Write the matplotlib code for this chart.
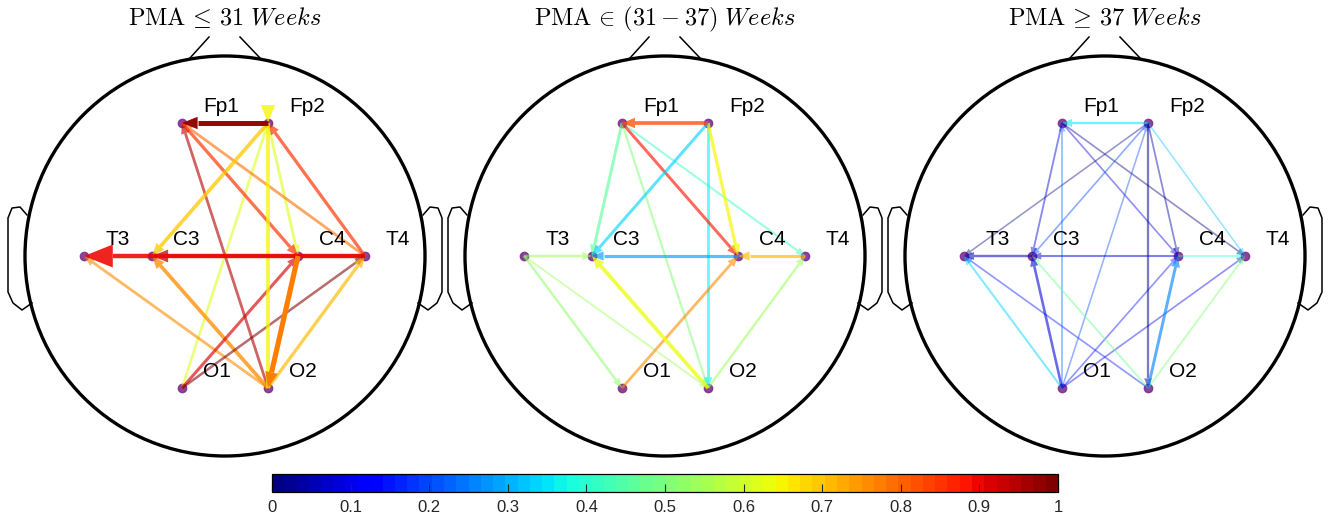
import numpy as np
import matplotlib.pyplot as plt
from matplotlib.patches import Circle, Polygon
from matplotlib.colors import Normalize
from matplotlib.cm import ScalarMappable

plt.rcParams['mathtext.fontset'] = 'cm'
plt.rcParams['font.family'] = ['Liberation Sans', 'DejaVu Sans']

# electrode layout on a unit head (nose up)
positions = {
    'Fp1': (-0.215, 0.665), 'Fp2': (0.215, 0.665),
    'T3': (-0.705, 0.0), 'C3': (-0.365, 0.0),
    'C4': (0.365, 0.0), 'T4': (0.70, 0.0),
    'O1': (-0.215, -0.66), 'O2': (0.215, -0.66),
}

titles = [r'$\mathrm{PMA}\,\leq\,31\ Weeks$',
          r'$\mathrm{PMA}\,\in\,(31-37)\ Weeks$',
          r'$\mathrm{PMA}\,\geq\,37\ Weeks$']

# directed connections: (source, target), connectivity value, strength
edges_le31 = [('O1', 'Fp2'), ('Fp2', 'C4'), ('T4', 'Fp1'), ('O2', 'Fp1'),
              ('Fp1', 'C4'), ('T4', 'Fp2'), ('O2', 'T3'), ('O2', 'C3'),
              ('O1', 'C4'), ('O1', 'T4'), ('O2', 'T4'), ('O2', 'Fp2'),
              ('Fp2', 'C3'), ('T4', 'C3'), ('T4', 'T3'), ('C4', 'O2'),
              ('Fp2', 'Fp1')]
values_le31 = [0.61, 0.62, 0.79, 0.94, 0.85, 0.85, 0.75, 0.76,
               0.91, 1.00, 0.71, 0.65, 0.70, 0.95, 0.90, 0.77, 0.97]
strength_le31 = [0.30, 0.35, 0.35, 0.35, 0.48, 0.48, 0.35, 0.60,
                 0.42, 0.28, 0.48, 0.60, 0.60, 0.55, 0.80, 1.00, 0.95]

edges_31_37 = [('Fp1', 'T4'), ('Fp1', 'O2'), ('T3', 'O2'), ('T3', 'O1'),
               ('O2', 'T4'), ('Fp1', 'C3'), ('Fp2', 'O2'), ('Fp1', 'C4'),
               ('T3', 'C3'), ('T4', 'C4'), ('O1', 'C4'), ('Fp2', 'C4'),
               ('Fp2', 'C3'), ('O2', 'C3'), ('C4', 'C3'), ('Fp2', 'Fp1')]
values_31_37 = [0.42, 0.50, 0.54, 0.53, 0.54, 0.46, 0.37, 0.875,
                0.54, 0.71, 0.76, 0.65, 0.34, 0.64, 0.29, 0.82]
strength_31_37 = [0.15, 0.20, 0.10, 0.25, 0.25, 0.40, 0.35, 0.40,
                  0.25, 0.45, 0.35, 0.48, 0.40, 0.60, 0.45, 0.62]

edges_ge37 = [('Fp1', 'T4'), ('Fp2', 'T3'), ('Fp2', 'C4'), ('Fp1', 'C4'),
              ('O1', 'T4'), ('O1', 'C4'), ('O2', 'T3'), ('Fp2', 'C3'),
              ('O1', 'Fp2'), ('O1', 'Fp1'), ('Fp2', 'T4'), ('O1', 'T3'),
              ('O2', 'C3'), ('O2', 'T4'), ('C4', 'T4'), ('Fp1', 'C3'),
              ('C4', 'C3'), ('C3', 'T3'), ('O1', 'C3'),
              ('Fp2', 'O2'), ('O2', 'C4'), ('Fp2', 'Fp1')]
values_ge37 = [0.00, 0.01, 0.04, 0.08, 0.10, 0.15, 0.15, 0.20,
               0.20, 0.22, 0.315, 0.34, 0.48, 0.50, 0.40, 0.08,
               0.09, 0.05, 0.09, 0.025, 0.255, 0.355]
strength_ge37 = [0.05, 0.02, 0.08, 0.05, 0.05, 0.05, 0.05, 0.05,
                 0.02, 0.05, 0.02, 0.15, 0.10, 0.10, 0.05, 0.10,
                 0.15, 0.25, 0.30, 0.20, 0.40, 0.25]

panels = [(edges_le31, values_le31, strength_le31),
          (edges_31_37, values_31_37, strength_31_37),
          (edges_ge37, values_ge37, strength_ge37)]

# a couple of heads are drawn larger / reversed in the original layout
head_scale = {(0, 'T4', 'T3'): 2.0, (0, 'O2', 'Fp2'): 1.4, (0, 'T4', 'C3'): 1.3}
reversed_heads = {(0, 'O2', 'Fp2')}

cmap = plt.get_cmap('jet', 64)
norm = Normalize(0, 1)
PX = 1 / 200.0  # data units per pixel on the head


def draw_head(ax):
    ax.add_patch(Circle((0, 0), 1.0, fill=False, lw=2.4, color='black', zorder=1))
    ax.plot([-0.175, -0.08], [0.99, 1.095], color='black', lw=1.1)
    ax.plot([0.175, 0.075], [0.99, 1.095], color='black', lw=1.1)
    ear_x = np.array([-0.99, -1.025, -1.065, -1.085, -1.085, -1.06, -1.015, -0.965])
    ear_y = np.array([0.205, 0.245, 0.24, 0.19, -0.18, -0.235, -0.27, -0.235])
    ax.plot(ear_x, ear_y, color='black', lw=1.1)
    ax.plot(-ear_x, ear_y, color='black', lw=1.1)


def draw_edge(ax, p0, p1, value, s, scale=1.0, reverse=False):
    color = cmap(norm(value))
    alpha = 0.40 + 0.60 * s
    lw = 1.1 + 2.6 * s
    p0, p1 = np.array(p0), np.array(p1)
    d = (p1 - p0) / np.linalg.norm(p1 - p0)
    n = np.array([-d[1], d[0]])
    L = (8 + 8 * s) * PX * scale
    W = 0.8 * L
    if reverse:
        base = p1 + d * L
        end = p1
    else:
        base = p1 - d * L
        end = base
    ax.plot([p0[0], end[0]], [p0[1], end[1]], color=color, alpha=alpha,
            lw=lw, solid_capstyle='butt', zorder=3)
    head = Polygon([p1, base + n * W / 2, base - n * W / 2], closed=True,
                   facecolor=color, edgecolor='none', alpha=alpha, zorder=3)
    ax.add_patch(head)


fig = plt.figure(figsize=(13.28, 5.21), dpi=100)
W_FIG, H_FIG = 1328.0, 521.0

for i, (edges, vals, strength) in enumerate(panels):
    cx, cy = 225 + 440 * i, 256
    ax = fig.add_axes([(cx - 220) / W_FIG, (H_FIG - cy - 220) / H_FIG,
                       440 / W_FIG, 440 / H_FIG])
    ax.set_xlim(-1.1, 1.1)
    ax.set_ylim(-1.1, 1.1)
    ax.set_aspect('equal')
    ax.axis('off')
    draw_head(ax)

    xs = [p[0] for p in positions.values()]
    ys = [p[1] for p in positions.values()]
    ax.plot(xs, ys, 'o', color='#7E2F8E', ms=6, mec='#7E2F8E', alpha=0.9, zorder=2)
    for name, (x, y) in positions.items():
        ax.text(x + 0.105, y + 0.055, name, fontsize=15, ha='left',
                va='baseline', color='black', zorder=4)

    for (a, b), v, s in zip(edges, vals, strength):
        draw_edge(ax, positions[a], positions[b], v, s,
                  scale=head_scale.get((i, a, b), 1.0),
                  reverse=(i, a, b) in reversed_heads)

    ax.text(0, 1.155, titles[i], fontsize=17.5, ha='center', va='baseline')

cax = fig.add_axes([272 / W_FIG, (H_FIG - 492) / H_FIG, 786 / W_FIG, 18 / H_FIG])
cb = fig.colorbar(ScalarMappable(norm=norm, cmap=cmap), cax=cax,
                  orientation='horizontal')
cb.set_ticks(np.arange(0, 1.01, 0.1))
cb.set_ticklabels(['0', '0.1', '0.2', '0.3', '0.4', '0.5', '0.6', '0.7', '0.8', '0.9', '1'])
cax.tick_params(direction='in', length=6, width=0.8, color='#262626',
                labelsize=12, labelcolor='#262626', pad=6)
cb.outline.set_linewidth(0.9)

fig.savefig('out.png', dpi=100)
